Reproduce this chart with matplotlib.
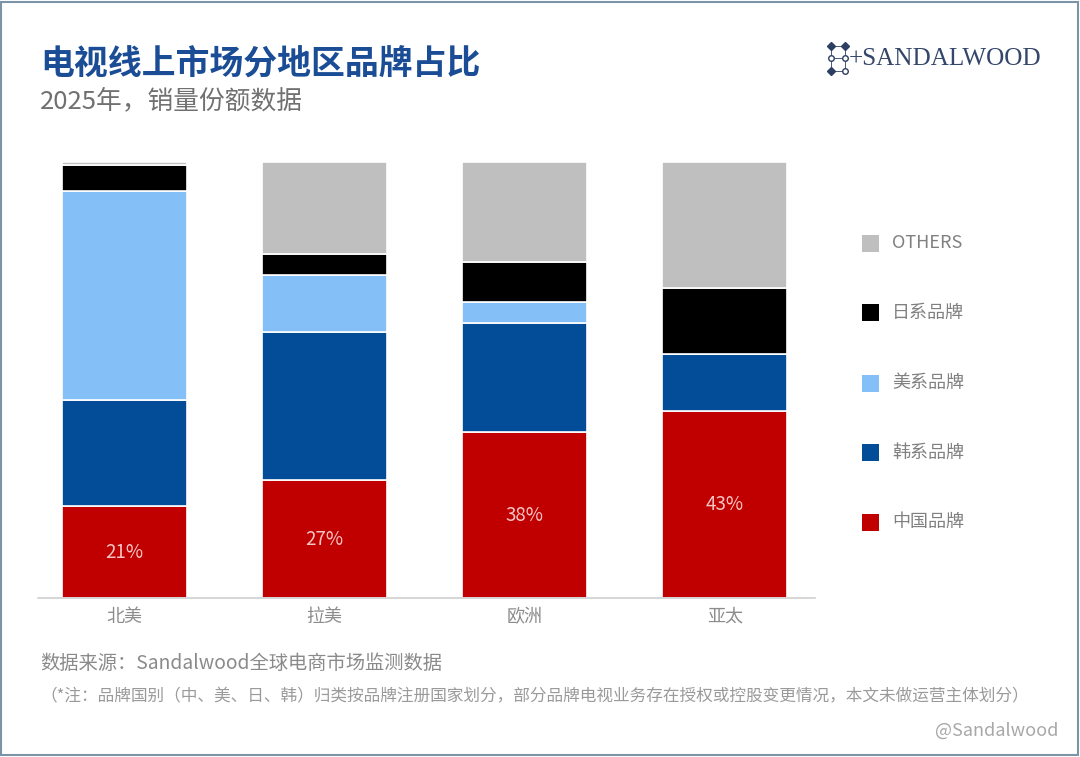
import matplotlib
matplotlib.use("Agg")
import matplotlib.pyplot as plt
from matplotlib.patches import Rectangle
from matplotlib.lines import Line2D

plt.rcParams['font.family'] = ['Noto Sans CJK SC', 'DejaVu Sans']

regions = ["北美", "拉美", "欧洲", "亚太"]
series_names = ["中国品牌", "韩系品牌", "美系品牌", "日系品牌", "OTHERS"]
cn = [21, 27, 38, 43]
kr = [24.5, 34, 25, 13]
us = [47.9, 13, 5, 0]
jp = [6, 5, 9, 15]
others = [0.6, 21, 23, 29]
colors = ["#c00000", "#034c97", "#85bff8", "#000000", "#bfbfbf"]

W, H = 1080, 757
fig = plt.figure(figsize=(W / 100, H / 100), dpi=100)
fig.patch.set_facecolor("white")

ax = fig.add_axes([38 / W, 1 - 598 / H, (815 - 38) / W, (598 - 162) / H])
x = list(range(len(regions)))
bottom = [0] * len(regions)
for vals, col in zip([cn, kr, us, jp, others], colors):
    ax.bar(x, vals, width=0.625, bottom=bottom, color=col,
           edgecolor="white", linewidth=1.2)
    bottom = [b + v for b, v in zip(bottom, vals)]

for xi, v in zip(x, cn):
    ax.text(xi, v / 2, f"{v:.0f}%", ha="center", va="center",
            color="#f6c4c4", fontsize=13.5, fontweight="light")

ax.set_xlim(-0.43, 3.45)
ax.set_ylim(0, 100)
ax.set_yticks([])
ax.set_xticks(x)
ax.set_xticklabels(regions, fontsize=13, color="#8c8c8c")
ax.tick_params(axis="x", length=0, pad=7)
for s in ["top", "right", "left"]:
    ax.spines[s].set_visible(False)
ax.spines["bottom"].set_color("#d0d0d0")
ax.spines["bottom"].set_linewidth(1.2)

# Legend (manual, top to bottom)
leg_y = [243, 313, 383, 453, 522]
for name, col, yy in zip(series_names[::-1], colors[::-1], leg_y):
    fig.patches.append(Rectangle((862 / W, 1 - (yy + 8.5) / H), 17 / W, 17 / H,
                                 transform=fig.transFigure, facecolor=col,
                                 edgecolor="none"))
    fig.text(892 / W, 1 - yy / H, name, ha="left", va="center",
             fontsize=13, color="#808080")

# Titles
fig.text(40 / W, 1 - 64 / H, "电视线上市场分地区品牌占比", ha="left", va="center",
         fontsize=24.4, fontweight="bold", color="#1a4d95")
fig.text(40 / W, 1 - 101 / H, "2025年，销量份额数据", ha="left", va="center",
         fontsize=18.5, fontweight="light", color="#707070")

# Logo
fig.text(849 / W, 1 - 59 / H, "+SANDALWOOD", ha="left", va="center",
         fontsize=18.1, family="Liberation Serif", color="#34476b")
logo_col = "#2c3f63"
for (x0, y0, x1, y1) in [(831, 46, 845, 46), (831, 58, 845, 58), (831, 71, 845, 71),
                         (831, 46, 831, 71), (845, 46, 845, 71)]:
    fig.lines.append(Line2D([x0 / W, x1 / W], [1 - y0 / H, 1 - y1 / H],
                            transform=fig.transFigure, color=logo_col, lw=0.6))
for (px, py, m) in [(831, 46, "D"), (845, 46, "D"), (831, 58, "o"), (845, 58, "o"),
                    (831, 71, "D"), (845, 71, "o")]:
    fig.lines.append(Line2D([px / W], [1 - py / H], transform=fig.transFigure,
                            marker=m, markersize=4, color=logo_col,
                            markerfacecolor=logo_col if m == "D" else "white"))

# Footer
fig.text(40 / W, 1 - 663 / H, "数据来源：Sandalwood全球电商市场监测数据", ha="left",
         va="center", fontsize=13.9, color="#8a8a8a")
fig.text(40 / W, 1 - 697 / H,
         "（*注：品牌国别（中、美、日、韩）归类按品牌注册国家划分，部分品牌电视业务存在授权或控股变更情况，本文未做运营主体划分）",
         ha="left", va="center", fontsize=12, color="#9a9a9a")
fig.text(1058 / W, 1 - 731 / H, "@Sandalwood", ha="right", va="center",
         fontsize=13, color="#a8a8a8")

# Border
fig.patches.append(Rectangle((0.001, 0.002), 0.997, 0.996, transform=fig.transFigure,
                             facecolor="none", edgecolor="#7b95a6", linewidth=1.5))

fig.savefig("out.png", dpi=100, facecolor="white")
